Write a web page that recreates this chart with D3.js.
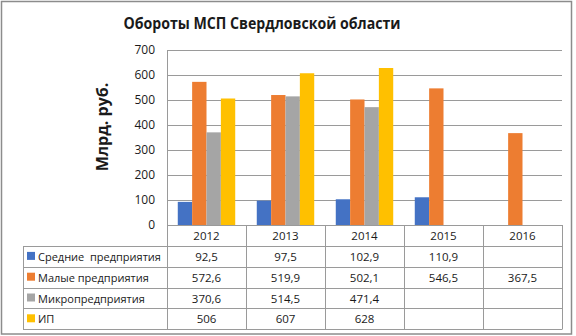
<!DOCTYPE html>
<html><head><meta charset="utf-8">
<script src="https://cdn.jsdelivr.net/npm/d3@7/dist/d3.min.js"></script>
<style>body{margin:0;background:#fff}svg{display:block}text{font-family:"Open Sans",sans-serif;fill:#1a1a1a}</style>
</head><body>
<svg id="c" width="576" height="336"></svg>
<script>
const years = ["2012","2013","2014","2015","2016"];
const seriesNames = ["Средние  предприятия","Малые предприятия","Микропредприятия","ИП"];
const colors = ["#4472C4","#ED7D31","#A5A5A5","#FFC000"];
const sredn = [92.5, 97.5, 102.9, 110.9, null];
const malye = [572.6, 519.9, 502.1, 546.5, 367.5];
const mikro = [370.6, 514.5, 471.4, null, null];
const ip = [506, 607, 628, null, null];
const yTicks = [0,100,200,300,400,500,600,700];
const series = [sredn, malye, mikro, ip];

const svg = d3.select("#c");
const L = 167, R = 562, T = 50, B = 225;
const x = d3.scaleBand().domain(years).range([L, R]);
const y = d3.scaleLinear().domain([0, 700]).range([B, T]);
const bw = x.bandwidth() / 5.5;
const off = (x.bandwidth() - 4*bw)/2;

// outer border
svg.append("rect").attr("x",1.5).attr("y",1.5).attr("width",570).attr("height",332.5)
  .attr("fill","none").attr("stroke","#8c8c8c").attr("stroke-width",1.5);

// title
svg.append("text").attr("x",262).attr("y",29).attr("text-anchor","middle")
  .attr("font-size",16).attr("font-weight","bold")
  .attr("textLength",277).attr("lengthAdjust","spacingAndGlyphs")
  .text("Обороты МСП Свердловской области");

// y axis title
svg.append("text").attr("transform","translate(108,127) rotate(-90)").attr("text-anchor","middle")
  .attr("font-size",16).attr("font-weight","bold").text("Млрд. руб.");

// gridlines
svg.append("g").selectAll("line").data(yTicks.filter(d=>d>0)).join("line")
  .attr("x1",L).attr("x2",R).attr("y1",d=>Math.round(y(d))+0.5).attr("y2",d=>Math.round(y(d))+0.5)
  .attr("stroke","#9a9a9a").attr("stroke-width",1);

// y axis
const yAxis = d3.axisLeft(y).tickValues(yTicks).tickSize(0).tickPadding(12);
const ga = svg.append("g").attr("transform",`translate(${L},0)`).call(yAxis);
ga.select(".domain").attr("stroke","#9a9a9a");
ga.selectAll("text").attr("font-size",12).attr("font-family","Open Sans").attr("fill","#1a1a1a");

// bars
series.forEach((s, i) => {
  svg.append("g").selectAll("rect").data(years.map((yr, j) => ({yr, v: s[j]})).filter(d => d.v != null)).join("rect")
    .attr("x", d => x(d.yr) + off + i*bw)
    .attr("width", bw)
    .attr("y", d => y(d.v))
    .attr("height", d => y(0) - y(d.v))
    .attr("fill", colors[i]);
});

// table
const rowH = 20.8;
const rowsTop = 246;
const tbl = svg.append("g").attr("stroke","#9a9a9a").attr("stroke-width",1);
tbl.append("line").attr("x1",L).attr("x2",R).attr("y1",B+0.5).attr("y2",B+0.5);
d3.range(5).forEach(k => {
  const yy = Math.round(rowsTop + k*rowH)+0.5;
  tbl.append("line").attr("x1",23).attr("x2",R).attr("y1",yy).attr("y2",yy);
});
const bottom = Math.round(rowsTop + 4*rowH)+0.5;
years.forEach(yr => {
  tbl.append("line").attr("x1",Math.round(x(yr))+0.5).attr("x2",Math.round(x(yr))+0.5).attr("y1",B).attr("y2",bottom);
});
tbl.append("line").attr("x1",R+0.5).attr("x2",R+0.5).attr("y1",B).attr("y2",bottom);
tbl.append("line").attr("x1",23.5).attr("x2",23.5).attr("y1",rowsTop).attr("y2",bottom);

// year headers
svg.append("g").selectAll("text").data(years).join("text")
  .attr("x", d => x(d) + x.bandwidth()/2).attr("y", 240).attr("text-anchor","middle")
  .attr("font-size",11.5).text(d => d);

const fmt = v => v == null ? "" : String(v).replace(".", ",");
series.forEach((s, i) => {
  const cy = rowsTop + i*rowH + rowH/2;
  svg.append("rect").attr("x",27).attr("y",cy-4.5).attr("width",8).attr("height",8).attr("fill",colors[i]);
  svg.append("text").attr("x",38).attr("y",cy+4.5).attr("font-size",11).style("white-space","pre").text(seriesNames[i]);
  svg.append("g").selectAll("text").data(years.map((yr,j)=>({yr, v:s[j]}))).join("text")
    .attr("x", d => x(d.yr) + x.bandwidth()/2).attr("y", cy+4.5).attr("text-anchor","middle")
    .attr("font-size",11.5).text(d => fmt(d.v));
});
</script>
</body></html>
